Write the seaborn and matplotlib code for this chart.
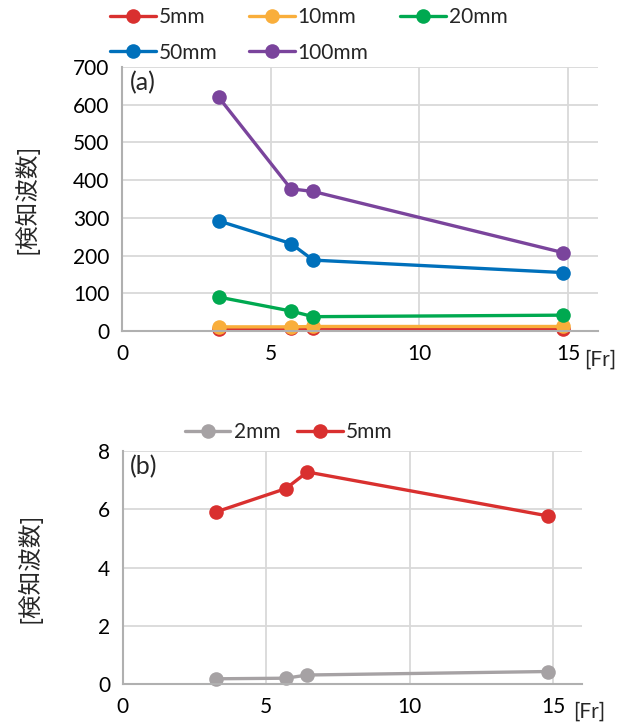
import matplotlib
matplotlib.use("Agg")
import matplotlib.pyplot as plt
import seaborn as sns
import pandas as pd
from matplotlib.lines import Line2D

# ---- data ----
fr = [3.25, 5.68, 6.43, 14.83]
a_series = ["5mm", "10mm", "20mm", "50mm", "100mm"]
a_5mm = [5.9, 6.7, 7.3, 5.8]
a_10mm = [11, 11, 12, 12]
a_20mm = [90, 53, 38, 42]
a_50mm = [292, 232, 188, 155]
a_100mm = [620, 377, 370, 208]
b_series = ["2mm", "5mm"]
b_2mm = [0.18, 0.2, 0.31, 0.43]
b_5mm = [5.91, 6.71, 7.28, 5.77]
x_ticks = [0, 5, 10, 15]
a_yticks = [0, 100, 200, 300, 400, 500, 600, 700]
b_yticks = [0, 2, 4, 6, 8]

colors = {"5mm": "#D9302F", "10mm": "#F9AE3B", "20mm": "#00A950",
          "50mm": "#0070BB", "100mm": "#7A449C", "2mm": "#A6A2A4"}

sns.set_theme(style="white")
plt.rcParams['font.family'] = ['Lato', 'Noto Sans CJK JP', 'DejaVu Sans']

fig = plt.figure(figsize=(6.3, 7.27), dpi=100)
ax1 = fig.add_axes([0.1937, 0.5447, 0.755, 0.3631])
ax2 = fig.add_axes([0.195, 0.0591, 0.7286, 0.3205])

dfa = pd.DataFrame({
    "Fr": fr * 5,
    "v": a_5mm + a_10mm + a_20mm + a_50mm + a_100mm,
    "s": sum([[s] * 4 for s in a_series], []),
})
dfb = pd.DataFrame({
    "Fr": fr * 2,
    "v": b_2mm + b_5mm,
    "s": sum([[s] * 4 for s in b_series], []),
})

LW = 2.4
MS = 10.5
FS = 15

def style(ax, yticks, label):
    ax.set_xlim(0, 16)
    ax.set_ylim(yticks[0], yticks[-1])
    ax.set_xticks(x_ticks)
    ax.set_yticks(yticks)
    ax.grid(True, color="#D9D9D9", linewidth=1.3)
    ax.set_axisbelow(True)
    for sp in ["top", "right"]:
        ax.spines[sp].set_visible(False)
    for sp in ["left", "bottom"]:
        ax.spines[sp].set_color("#B0B0B0")
        ax.spines[sp].set_linewidth(1.5)
    ax.tick_params(length=0, labelsize=FS, colors="black", pad=9)
    ax.set_xlabel("")
    ax.set_ylabel("[検知波数]", fontsize=17, family=['Noto Sans CJK JP', 'DejaVu Sans'])
    ax.text(0.016, 0.985, label, transform=ax.transAxes, fontsize=18, va="top", ha="left")

for ax, df, order in [(ax1, dfa, a_series), (ax2, dfb, b_series)]:
    sns.lineplot(data=df, x="Fr", y="v", hue="s", hue_order=order,
                 palette=[colors[s] for s in order], marker="o",
                 markersize=MS, markeredgewidth=0, linewidth=LW,
                 ax=ax, legend=False, clip_on=False)

style(ax1, a_yticks, "(a)")
style(ax2, b_yticks, "(b)")
ax1.yaxis.set_label_coords(-0.175, 0.5)
ax2.yaxis.set_label_coords(-0.178, 0.5)

ax1.text(1.005, -0.107, "[Fr]", transform=ax1.transAxes, fontsize=FS, ha="center", va="center")
ax2.text(1.015, -0.12, "[Fr]", transform=ax2.transAxes, fontsize=FS, ha="center", va="center")

def handles(order):
    return [Line2D([0], [0], color=colors[s], marker="o", markersize=MS,
                   markeredgewidth=0, linewidth=LW) for s in order]

# column-major fill -> reorder so rows read 5,10,20 / 50,100
leg_order = ["5mm", "50mm", "10mm", "100mm", "20mm"]
fig.legend(handles(leg_order), leg_order, loc="center", bbox_to_anchor=(0.49, 0.952),
           ncol=3, frameon=False, fontsize=FS, handlelength=2.2, handletextpad=0.15,
           columnspacing=1.5, labelspacing=0.75)
fig.legend(handles(b_series), b_series, loc="center", bbox_to_anchor=(0.458, 0.406),
           ncol=2, frameon=False, fontsize=FS, handlelength=2.2, handletextpad=0.15,
           columnspacing=0.8)

fig.savefig("out.png", dpi=100)
